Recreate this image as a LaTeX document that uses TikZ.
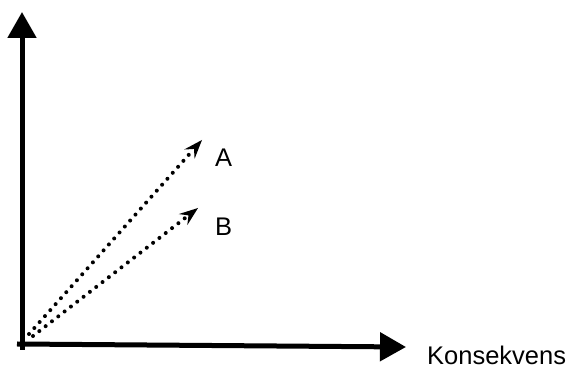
\documentclass[tikz,border=0pt]{standalone}
\usepackage{fontspec}
\setmainfont{Liberation Sans}
\usetikzlibrary{arrows.meta}
\begin{document}
\begin{tikzpicture}[x=1pt, y=-1pt, every node/.style={font=\fontsize{25.5}{30}\selectfont, inner sep=0pt},
		axis/.style={line width=5pt, -{Triangle[length=26pt, width=28pt]}},
		vec/.style={line width=4pt, line cap=round, dash pattern=on 0pt off 8pt, -{Stealth[length=19pt, width=14pt, inset=7pt, line cap=butt, line width=0pt]}}]
	% 1. 画布大小
	\useasboundingbox (0,0) rectangle (574,371);
	
	% 2. 坐标点
	\coordinate (origin) at (22,344);
	\coordinate (ybot) at (22,350);
	\coordinate (ytip) at (22,12);
	\coordinate (xstart) at (17,344);
	\coordinate (xtip) at (406,347);
	\coordinate (startA) at (29,334);
	\coordinate (startB) at (33,336);
	\coordinate (tipA) at (202,140);
	\coordinate (tipB) at (198,208);
	
	% 3. 坐标轴
	\draw[axis] (ybot) -- (ytip);
	\draw[axis] (xstart) -- (xtip);
	\node[anchor=base west] (kons) at (427,365) {Konsekvens};
	
	% 4. 两个向量
	\draw[vec] (startA) -- (tipA);
	\draw[vec] (startB) -- (tipB);
	\node[anchor=base west] (labA) at (215,167) {A};
	\node[anchor=base west] (labB) at (215,236) {B};
\end{tikzpicture}
\end{document}
